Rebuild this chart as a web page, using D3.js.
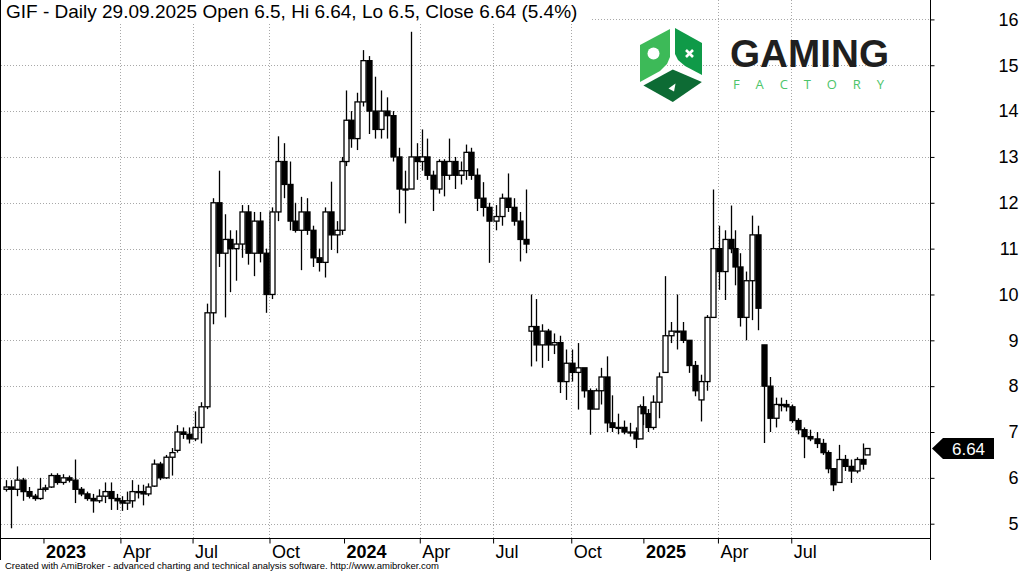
<!DOCTYPE html>
<html><head><meta charset="utf-8">
<script src="https://cdn.jsdelivr.net/npm/d3@7"></script>
<style>body{margin:0;background:#fff}svg{display:block}text{font-family:"Liberation Sans",Arial,sans-serif}</style>
</head><body><svg id="c" width="1022" height="572"></svg>
<script>
// ---- data (weekly candles) ----
const startDate = "2022-11-16", endDate = "2025-09-29";
const holidays = ["2022-12-26","2023-01-06","2023-04-07","2023-04-10","2023-05-01","2023-05-03","2023-06-08","2023-08-15","2023-11-01","2023-12-25","2023-12-26",
"2024-01-01","2024-03-29","2024-04-01","2024-05-01","2024-05-03","2024-05-30","2024-08-15","2024-11-01","2024-11-11","2024-12-24","2024-12-25","2024-12-26","2024-12-31",
"2025-01-01","2025-01-06","2025-04-18","2025-04-21","2025-05-01","2025-06-19","2025-08-15"];
const open = [5.75,5.8,5.75,5.95,5.7,5.6,5.55,5.75,5.8,6.05,5.9,6.0,5.95,5.75,5.65,5.55,5.5,5.6,5.7,5.55,
5.5,5.45,5.5,5.7,5.7,5.65,5.82,6.3,6.0,6.45,6.6,7.0,6.95,6.85,7.1,7.55,9.6,12.0,10.9,11.2,
11.0,11.1,11.8,10.9,11.6,10.9,10.0,11.8,12.9,12.4,11.6,11.4,11.8,11.4,10.8,10.7,11.8,11.3,11.4,12.9,
13.8,13.4,14.2,15.1,14.0,13.6,14.0,13.9,13.0,12.3,12.3,13.0,12.9,13.0,12.6,12.3,12.9,12.6,12.9,12.6,
12.7,13.1,12.6,12.1,11.9,11.6,11.7,12.1,11.9,11.6,11.2,9.2,9.3,8.9,9.2,8.9,8.95,8.1,8.5,8.3,
8.4,7.9,7.5,7.9,8.2,7.2,7.1,7.1,7.0,7.0,6.85,7.55,7.4,7.1,7.65,8.3,9.1,9.2,9.2,9.0,
8.45,7.7,8.1,9.5,11.0,10.5,11.2,11.0,10.6,9.5,10.3,11.3,8.9,8.0,7.3,7.6,7.6,7.55,7.25,7.05,
6.9,6.85,6.75,6.55,6.2,5.9,6.4,6.25,6.15,6.4,6.5];
const high = [5.95,5.95,6.25,6.0,5.8,5.65,6.0,5.85,6.1,6.1,6.08,6.05,6.4,5.8,5.7,5.65,5.75,5.9,5.9,5.65,
5.6,5.7,5.95,5.85,5.85,5.88,6.4,6.35,6.5,6.65,7.15,7.1,7.1,7.45,7.65,9.8,12.1,12.7,11.75,11.4,
11.4,11.95,11.95,11.8,11.8,11.0,11.9,13.45,13.3,12.9,12.0,12.13,12.1,11.5,11.0,11.9,12.46,11.6,13.0,14.45,
14.0,14.4,15.33,15.2,14.75,14.45,14.3,14.0,13.2,12.7,15.73,13.3,13.6,13.4,12.7,12.95,12.95,13.4,13.0,12.9,
13.27,13.2,12.75,12.45,12.0,11.95,12.2,12.64,12.1,11.8,12.29,10.0,9.9,9.35,9.25,9.15,9.1,8.8,8.8,8.94,
8.35,7.95,7.95,8.4,8.65,7.8,7.4,7.25,7.2,7.1,7.6,7.78,7.5,7.8,8.3,10.4,9.4,10.0,9.4,9.0,
8.55,8.25,9.55,12.29,11.5,11.4,11.94,11.4,10.9,10.5,11.72,11.5,8.9,8.2,7.75,7.75,7.7,7.6,7.3,7.1,
7.05,7.0,6.85,6.6,6.2,6.72,6.5,6.4,6.45,6.75,6.64];
const low = [5.7,4.9,5.6,5.5,5.55,5.5,5.52,5.7,5.78,5.85,5.85,5.9,5.45,5.6,5.5,5.24,5.45,5.45,5.3,5.3,
5.28,5.3,5.35,5.55,5.4,5.6,5.8,5.95,5.98,6.05,6.55,6.85,6.75,6.8,6.75,7.5,9.35,10.6,9.5,10.05,
10.3,10.8,10.65,10.4,10.7,9.6,9.9,11.6,12.1,11.4,11.35,10.53,11.3,10.6,10.5,10.37,10.97,10.9,11.3,12.8,
13.2,13.15,14.1,13.5,13.4,13.4,13.4,12.9,11.77,11.55,12.3,12.5,12.7,12.5,11.82,12.2,12.14,12.5,12.3,12.4,
12.5,12.5,11.82,11.7,10.69,11.4,11.5,11.8,11.5,10.72,10.9,8.43,8.54,8.4,8.55,8.7,7.85,7.7,8.1,7.49,
7.75,6.94,7.5,7.6,7.0,7.0,6.95,6.95,6.9,6.65,6.85,7.15,7.0,7.05,7.3,8.3,8.94,8.8,8.94,8.29,
7.78,7.23,7.9,9.5,10.1,9.88,10.9,10.2,9.3,9.0,9.44,9.22,6.76,7.0,7.1,7.45,7.45,7.2,6.95,6.43,
6.8,6.65,6.5,6.1,5.71,5.9,6.15,5.89,6.1,6.18,6.5];
const close = [5.8,5.75,5.95,5.7,5.6,5.55,5.75,5.78,6.05,5.9,6.0,5.95,5.75,5.65,5.55,5.5,5.6,5.7,5.55,5.5,
5.45,5.5,5.7,5.7,5.65,5.8,6.3,6.0,6.45,6.55,7.0,6.95,6.85,7.1,7.55,9.6,12.0,10.9,11.2,11.0,
11.1,11.8,10.9,11.6,10.9,10.0,11.8,12.9,12.4,11.6,11.4,11.8,11.4,10.8,10.7,11.8,11.3,11.4,12.9,13.8,
13.4,14.2,15.1,14.0,13.6,14.0,13.9,13.0,12.3,12.3,13.0,12.9,13.0,12.6,12.3,12.9,12.6,12.9,12.6,12.7,
13.1,12.6,12.1,11.9,11.6,11.7,12.1,11.9,11.6,11.2,11.1,9.3,8.9,9.2,8.9,8.95,8.1,8.5,8.3,8.4,
7.9,7.5,7.9,8.2,7.2,7.1,7.1,7.0,7.0,6.85,7.55,7.4,7.1,7.65,8.2,9.1,9.2,9.2,9.0,8.45,
7.9,8.1,9.5,11.0,10.5,11.2,11.0,10.6,9.5,10.3,11.3,9.7,8.0,7.3,7.6,7.6,7.55,7.25,7.05,6.9,
6.85,6.75,6.55,6.2,5.85,6.4,6.25,6.15,6.4,6.3,6.64];
const yTicks = [5,6,7,8,9,10,11,12,13,14,15,16];
const lastClose = 6.64;
const header = "GIF - Daily 29.09.2025 Open 6.5, Hi 6.64, Lo 6.5, Close 6.64 (5.4%)";
const footer = "Created with AmiBroker - advanced charting and technical analysis software. http://www.amibroker.com";

// ---- build trading-day axis ----
const parse = d3.utcParse("%Y-%m-%d"), fmt = d3.utcFormat("%Y-%m-%d");
const hol = new Set(holidays);
const days = [];
for (let d = parse(startDate); d <= parse(endDate); d = d3.utcDay.offset(d, 1)) {
  const wd = d.getUTCDay();
  if (wd === 0 || wd === 6 || hol.has(fmt(d))) continue;
  days.push(d);
}
const weeks = d3.groups(days.map((d, i) => ({d, i})), o => +d3.utcMonday.floor(o.d));
const candles = weeks.map(([k, items], j) => ({
  i: d3.mean(items, o => o.i), o: open[j], h: high[j], l: low[j], c: close[j]
}));

const W = 1022, H = 572, plotR = 930.5, axisY = 538.5;
const x = d3.scaleLinear().domain([0, days.length - 1]).range([5, 867]);
const y = d3.scaleLinear().domain([5, 16]).range([523.7, 19.4]);

const svg = d3.select("#c");
svg.append("rect").attr("width", W).attr("height", H).attr("fill", "#fff");

// quarter ticks
const qIdx = days.map((d, i) => i).filter(i => {
  const m = days[i].getUTCMonth();
  return m % 3 === 0 && (i === 0 || days[i - 1].getUTCMonth() !== m);
});

// grid
const grid = svg.append("g").attr("stroke", "#a8a8a8").attr("stroke-dasharray", "1,2").attr("stroke-width", 1);
grid.selectAll("line.h").data(yTicks).join("line")
  .attr("x1", 1).attr("x2", plotR).attr("y1", d => Math.round(y(d)) + 0.5).attr("y2", d => Math.round(y(d)) + 0.5);
grid.selectAll("line.v").data(qIdx.filter(i => days[i].getUTCMonth() !== 0)).join("line")
  .attr("x1", i => Math.round(x(i)) + 0.5).attr("x2", i => Math.round(x(i)) + 0.5).attr("y1", 0).attr("y2", axisY);

// candles
const bw = 5;
const cg = svg.append("g");
cg.selectAll("line.w").data(candles).join("line")
  .attr("x1", d => Math.round(x(d.i)) + 0.5).attr("x2", d => Math.round(x(d.i)) + 0.5)
  .attr("y1", d => y(d.h)).attr("y2", d => y(d.l)).attr("stroke", "#000").attr("stroke-width", 1.3);
cg.selectAll("rect.b").data(candles).join("rect")
  .attr("x", d => Math.round(x(d.i)) - bw / 2 + 0.5)
  .attr("width", bw)
  .attr("y", d => y(Math.max(d.o, d.c)))
  .attr("height", d => Math.max(1, Math.abs(y(d.o) - y(d.c))))
  .attr("fill", d => d.c >= d.o ? "#fff" : "#000")
  .attr("stroke", "#000").attr("stroke-width", 1.3);

// frame lines
svg.append("line").attr("x1", 0.5).attr("x2", 0.5).attr("y1", 0).attr("y2", 560).attr("stroke", "#000");
svg.append("line").attr("x1", plotR).attr("x2", plotR).attr("y1", 0).attr("y2", 560).attr("stroke", "#000");
svg.append("line").attr("x1", 0).attr("x2", plotR).attr("y1", axisY).attr("y2", axisY).attr("stroke", "#000");

// y axis
const ya = svg.append("g").attr("transform", `translate(${plotR},0)`)
  .call(d3.axisRight(y).tickValues(yTicks).tickSize(4).tickFormat(d3.format("d")));
ya.select(".domain").remove();
ya.selectAll("line").attr("stroke", "#000");
ya.selectAll("text").attr("x", 88).attr("text-anchor", "end").attr("font-size", 18).attr("fill", "#000")
  .style("font-family", '"Liberation Sans",Arial,sans-serif');

// x axis
const xa = svg.append("g").attr("transform", `translate(0,${axisY})`)
  .call(d3.axisBottom(x).tickValues(qIdx).tickSize(5)
    .tickFormat(i => days[i].getUTCMonth() === 0 ? d3.utcFormat("%Y")(days[i]) : d3.utcFormat("%b")(days[i])));
xa.select(".domain").remove();
xa.selectAll("line").attr("stroke", "#000");
xa.selectAll("text").attr("x", 2).attr("y", 19).attr("dy", null).attr("text-anchor", "start")
  .attr("font-size", 18).attr("fill", "#000")
  .attr("font-weight", i => days[i].getUTCMonth() === 0 ? "bold" : "normal")
  .style("font-family", '"Liberation Sans",Arial,sans-serif');

// last price label
const yl = y(lastClose);
svg.append("path").attr("d", `M932,${yl} L943,${yl - 10.5} L994,${yl - 10.5} L994,${yl + 10.5} L943,${yl + 10.5} Z`).attr("fill", "#000");
svg.append("text").attr("x", 968.5).attr("y", yl + 6).attr("text-anchor", "middle").attr("font-size", 17)
  .attr("fill", "#fff").text(lastClose.toFixed(2));

// header
svg.append("rect").attr("x", 1).attr("y", 0).attr("width", 590).attr("height", 22).attr("fill", "#fff");
svg.append("text").attr("x", 6).attr("y", 17.5).attr("font-size", 19).attr("fill", "#000").text(header);

// footer
svg.append("text").attr("x", 5).attr("y", 569).attr("font-size", 9.5).attr("fill", "#000").text(footer);

// logo
const logo = svg.append("g");
logo.append("polygon").attr("points", "640,45 670,29 670,57 667,64 660,71 640,82").attr("fill", "#3dba58");
logo.append("polygon").attr("points", "675,28 702,43 702,75 685,66 678,60 675,54").attr("fill", "#0f9a48");
logo.append("polygon").attr("points", "643.4,85.5 672.8,69.5 701.9,82 672.8,102").attr("fill", "#0d6b34");
logo.append("circle").attr("cx", 653.5).attr("cy", 53.5).attr("r", 6).attr("fill", "#fff");
logo.append("path").attr("d", "M686,50 L693,57 M693,50 L686,57").attr("stroke", "#fff").attr("stroke-width", 2.6);
logo.append("polygon").attr("points", "668.5,88.5 675.5,83.5 674,91.5").attr("fill", "#fff");
logo.append("text").attr("x", 730).attr("y", 67).attr("font-size", 39).attr("font-weight", "bold")
  .attr("textLength", 159).attr("lengthAdjust", "spacingAndGlyphs").attr("fill", "#1f1f1f")
  .style("font-family", '"Liberation Sans Narrow","Liberation Sans",Arial,sans-serif').text("GAMING");
logo.append("text").attr("x", 733).attr("y", 88.5).attr("font-size", 13)
  .attr("textLength", 151).attr("lengthAdjust", "spacing").attr("fill", "#4cc46a")
  .style("font-family", '"Open Sans","DejaVu Sans",sans-serif').text("FACTORY");
</script></body></html>
